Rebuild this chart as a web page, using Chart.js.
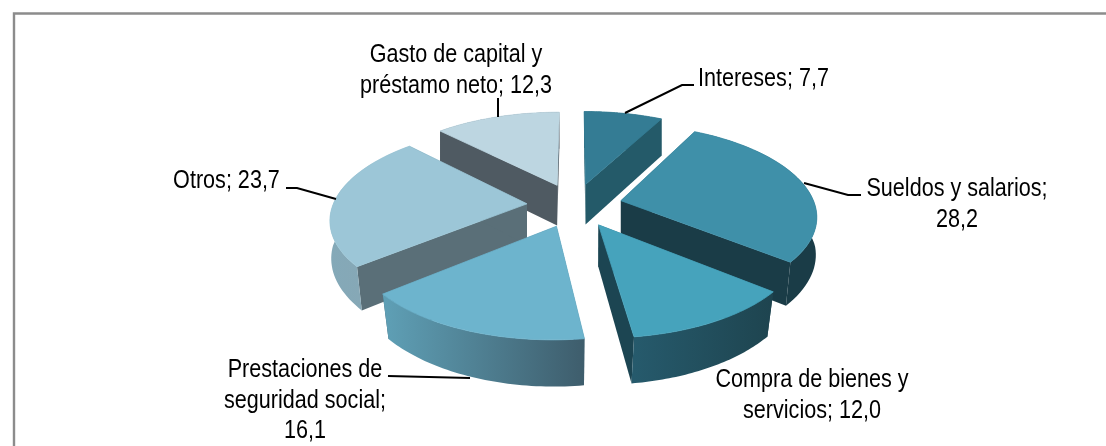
<!DOCTYPE html>
<html>
<head>
<meta charset="utf-8">
<script src="https://cdn.jsdelivr.net/npm/chart.js@4"></script>
<style>
    html, body { margin: 0; padding: 0; background: #fff; overflow: hidden; }
    canvas { display: block; }
</style>
</head>
<body>
<canvas id="myChart" width="1106" height="446"></canvas>
<script>
var categories = ['Intereses', 'Sueldos y salarios', 'Compra de bienes y servicios',
    'Prestaciones de seguridad social', 'Otros', 'Gasto de capital y préstamo neto'];
var values = [7.7, 28.2, 12.0, 16.1, 23.7, 12.3];

// colours of each slice: top face, cut face, rim left and rim right
var topColors = ['#347c94', '#3f90a9', '#46a3bc', '#6db4cd', '#9cc6d7', '#bdd6e1'];
var wallColors = ['#245a69', '#1a3c47', '#1c4552', '#3e5d6c', '#5a6f78', '#4f5a62'];
var rimLeft = ['#245a69', '#1a3c47', '#265a6c', '#5fa0b6', '#84a9b8', '#4f5a62'];
var rimRight = ['#245a69', '#1a3c47', '#1e444f', '#3e5d6c', '#89a6b3', '#4f5a62'];

// label placement: centre x, first baseline y, wrap width
var labelBoxes = [
    [763.5, 86, 300], [957, 196, 195], [812, 387, 205],
    [305, 377, 172], [226.5, 188, 200], [456, 62, 205]
];
var leaderLines = [
    [[625, 113], [682, 85], [694, 85]],
    [[804, 183], [848, 195], [861, 195]],
    null,
    [[388, 376], [470, 378]],
    [[286, 188], [297, 188], [336, 199]],
    [[498, 98], [498, 117]]
];
var textScale = 0.83;

// fitted view of the tilted pie
var view = { cx: 574.5, cy: 205, a: 194, k: 89.5, p: 0.15, depth: 41, narrow: 0.035 };

function project(u, v, low) {
    var w = 1 - view.p * v;
    var x = view.cx + view.a * u / w;
    var y = view.cy + view.k * v / w;
    if (low) {
        x = view.cx + (x - view.cx) * (1 - view.narrow * Math.max(v, 0));
        y = y + view.depth / (1 - 0.1 * v);
    }
    return [x, y];
}

function tracePoints(ctx, pts) {
    ctx.beginPath();
    for (var i = 0; i < pts.length; i++) {
        if (i == 0) ctx.moveTo(pts[i][0], pts[i][1]);
        else ctx.lineTo(pts[i][0], pts[i][1]);
    }
    ctx.closePath();
}

function drawSlice(ctx, arc, idx) {
    var p = arc.getProps(['x', 'y', 'startAngle', 'endAngle', 'outerRadius'], true);
    var mid = (p.startAngle + p.endAngle) / 2;
    var e = (arc.options.offset / 4) / p.outerRadius;
    var ou = Math.cos(mid) * e;
    var ov = Math.sin(mid) * e;

    var rim = [];
    var steps = 48;
    for (var s = 0; s <= steps; s++) {
        var a = p.startAngle + (p.endAngle - p.startAngle) * s / steps;
        rim.push([ou + Math.cos(a), ov + Math.sin(a)]);
    }

    var top = [project(ou, ov, false)];
    var rimTop = [];
    var rimLow = [];
    for (var i = 0; i < rim.length; i++) {
        var t = project(rim[i][0], rim[i][1], false);
        top.push(t);
        rimTop.push(t);
        rimLow.push(project(rim[i][0], rim[i][1], true));
    }
    var apexLow = project(ou, ov, true);

    // the two cut faces
    ctx.fillStyle = wallColors[idx];
    tracePoints(ctx, [top[0], rimTop[0], rimLow[0], apexLow]);
    ctx.fill();
    tracePoints(ctx, [top[0], rimTop[steps], rimLow[steps], apexLow]);
    ctx.fill();

    // outer rim
    var minX = 9999, maxX = -9999;
    for (var j = 0; j < rimTop.length; j++) {
        minX = Math.min(minX, rimTop[j][0]);
        maxX = Math.max(maxX, rimTop[j][0]);
    }
    var grad = ctx.createLinearGradient(minX, 0, maxX, 0);
    grad.addColorStop(0, rimLeft[idx]);
    grad.addColorStop(1, rimRight[idx]);
    ctx.fillStyle = grad;
    tracePoints(ctx, rimTop.concat(rimLow.slice().reverse()));
    ctx.fill();

    // top face
    ctx.fillStyle = topColors[idx];
    tracePoints(ctx, top);
    ctx.fill();
    ctx.strokeStyle = topColors[idx];
    ctx.lineWidth = 0.8;
    ctx.lineJoin = 'round';
    ctx.stroke();
}

function wrapLabel(ctx, text, width) {
    var words = text.split(' ');
    var lines = [];
    var line = '';
    for (var i = 0; i < words.length; i++) {
        var test = line == '' ? words[i] : line + ' ' + words[i];
        if (ctx.measureText(test).width * textScale > width && line != '') {
            lines.push(line);
            line = words[i];
        } else {
            line = test;
        }
    }
    lines.push(line);
    return lines;
}

var pie3d = {
    id: 'pie3d',
    beforeDraw: function (chart) {
        var ctx = chart.ctx;
        ctx.save();
        ctx.strokeStyle = '#8c8c8c';
        ctx.lineWidth = 2.4;
        ctx.beginPath();
        ctx.moveTo(14, 446);
        ctx.lineTo(14, 13.5);
        ctx.lineTo(1106, 13.5);
        ctx.stroke();
        ctx.restore();
    },
    // the slices get their angles from the pie controller, only the painting is ours
    beforeDatasetsDraw: function (chart) {
        var ctx = chart.ctx;
        var arcs = chart.getDatasetMeta(0).data;
        var order = arcs.map(function (a, i) { return i; });
        order.sort(function (m, n) {
            var pa = arcs[m], pb = arcs[n];
            return Math.sin((pa.startAngle + pa.endAngle) / 2) - Math.sin((pb.startAngle + pb.endAngle) / 2);
        });
        ctx.save();
        order.forEach(function (i) { drawSlice(ctx, arcs[i], i); });
        ctx.restore();
        return false;
    },
    afterDraw: function (chart) {
        var ctx = chart.ctx;
        ctx.save();
        ctx.strokeStyle = '#000';
        ctx.lineWidth = 2;
        leaderLines.forEach(function (pts) {
            if (!pts) return;
            ctx.beginPath();
            ctx.moveTo(pts[0][0], pts[0][1]);
            for (var i = 1; i < pts.length; i++) ctx.lineTo(pts[i][0], pts[i][1]);
            ctx.stroke();
        });
        ctx.fillStyle = '#000';
        ctx.font = '26px "Liberation Sans"';
        ctx.textAlign = 'center';
        ctx.textBaseline = 'alphabetic';
        categories.forEach(function (name, i) {
            var text = name + '; ' + values[i].toFixed(1).replace('.', ',');
            var box = labelBoxes[i];
            var lines = wrapLabel(ctx, text, box[2]);
            lines.forEach(function (line, n) {
                ctx.save();
                ctx.translate(box[0], box[1] + n * 30.5);
                ctx.scale(textScale, 1);
                ctx.fillText(line, 0, 0);
                ctx.restore();
            });
        });
        ctx.restore();
    }
};

var masspopChart = new Chart('myChart', {
    type: 'pie',
    data: {
        labels: categories,
        datasets: [{
            data: values,
            backgroundColor: topColors,
            offset: 147,
            borderWidth: 0
        }]
    },
    options: {
        responsive: false,
        animation: false,
        rotation: 0,
        plugins: {
            legend: { display: false },
            tooltip: { enabled: false }
        }
    },
    plugins: [pie3d]
});
</script>
</body>
</html>
